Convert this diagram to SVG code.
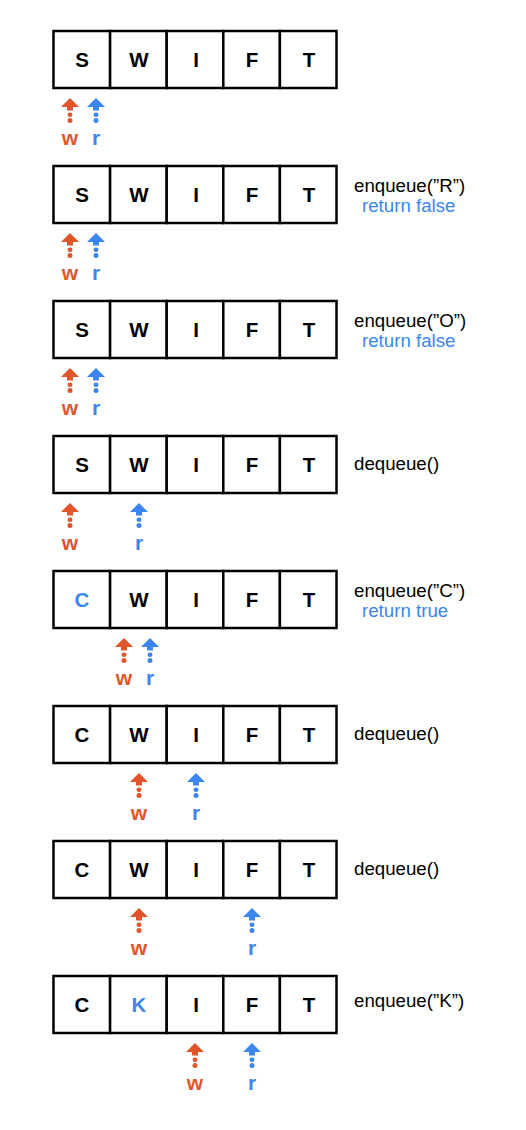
<svg xmlns="http://www.w3.org/2000/svg" xmlns:xlink="http://www.w3.org/1999/xlink" width="526" height="1130" viewBox="0 0 526 1130">
<style>
.cell{fill:#fff;stroke:#000;stroke-width:2.5}
.ch{font-family:"Liberation Sans",Arial,sans-serif;font-weight:bold;font-size:20.5px;text-anchor:middle;fill:#000}
.blue{fill:#3B86F2}
.orange{fill:#E0562A}
.op{font-family:"Liberation Sans",Arial,sans-serif;font-size:18.7px;fill:#000}
.ret{font-family:"Liberation Sans",Arial,sans-serif;font-size:18.7px;fill:#3B86F2}
.lbl{font-family:"Liberation Sans",Arial,sans-serif;font-weight:bold;font-size:21px;text-anchor:middle}
</style>
<defs>
<g id="cells">
<rect class="cell" x="53.5" y="0" width="56.6" height="57"/>
<rect class="cell" x="110.1" y="0" width="56.6" height="57"/>
<rect class="cell" x="166.7" y="0" width="56.6" height="57"/>
<rect class="cell" x="223.3" y="0" width="56.6" height="57"/>
<rect class="cell" x="279.9" y="0" width="56.6" height="57"/>
</g>
<g id="ptr">
<polygon points="-9,9 0,0 9,9"/>
<rect x="-3" y="8.5" width="6" height="4"/>
<rect x="-2.5" y="14.5" width="5" height="4.5" rx="2.5"/>
<rect x="-2.5" y="20" width="5" height="5" rx="2.5"/>
</g>
</defs>
<rect width="526" height="1130" fill="#fff"/>

<g id="row1">
<use xlink:href="#cells" y="31"/>
<text class="ch" x="82" y="67">S</text><text class="ch" x="139" y="67">W</text><text class="ch" x="196" y="67">I</text><text class="ch" x="252" y="67">F</text><text class="ch" x="309" y="67">T</text>
</g>
<g id="row2">
<use xlink:href="#cells" y="166"/>
<text class="ch" x="82" y="202">S</text><text class="ch" x="139" y="202">W</text><text class="ch" x="196" y="202">I</text><text class="ch" x="252" y="202">F</text><text class="ch" x="309" y="202">T</text>
<text class="op" x="354" y="192">enqueue(”R”)</text>
<text class="ret" x="362" y="212">return false</text>
</g>
<g id="row3">
<use xlink:href="#cells" y="301"/>
<text class="ch" x="82" y="337">S</text><text class="ch" x="139" y="337">W</text><text class="ch" x="196" y="337">I</text><text class="ch" x="252" y="337">F</text><text class="ch" x="309" y="337">T</text>
<text class="op" x="354" y="327">enqueue(”O”)</text>
<text class="ret" x="362" y="347">return false</text>
</g>
<g id="row4">
<use xlink:href="#cells" y="436"/>
<text class="ch" x="82" y="472">S</text><text class="ch" x="139" y="472">W</text><text class="ch" x="196" y="472">I</text><text class="ch" x="252" y="472">F</text><text class="ch" x="309" y="472">T</text>
<text class="op" x="354" y="470">dequeue()</text>
</g>
<g id="row5">
<use xlink:href="#cells" y="571"/>
<text class="ch blue" x="82" y="607">C</text><text class="ch" x="139" y="607">W</text><text class="ch" x="196" y="607">I</text><text class="ch" x="252" y="607">F</text><text class="ch" x="309" y="607">T</text>
<text class="op" x="354" y="597">enqueue(”C”)</text>
<text class="ret" x="362" y="617">return true</text>
</g>
<g id="row6">
<use xlink:href="#cells" y="706"/>
<text class="ch" x="82" y="742">C</text><text class="ch" x="139" y="742">W</text><text class="ch" x="196" y="742">I</text><text class="ch" x="252" y="742">F</text><text class="ch" x="309" y="742">T</text>
<text class="op" x="354" y="740">dequeue()</text>
</g>
<g id="row7">
<use xlink:href="#cells" y="841"/>
<text class="ch" x="82" y="877">C</text><text class="ch" x="139" y="877">W</text><text class="ch" x="196" y="877">I</text><text class="ch" x="252" y="877">F</text><text class="ch" x="309" y="877">T</text>
<text class="op" x="354" y="875">dequeue()</text>
</g>
<g id="row8">
<use xlink:href="#cells" y="976"/>
<text class="ch" x="82" y="1012">C</text><text class="ch blue" x="139" y="1012">K</text><text class="ch" x="196" y="1012">I</text><text class="ch" x="252" y="1012">F</text><text class="ch" x="309" y="1012">T</text>
<text class="op" x="354" y="1007">enqueue(”K”)</text>
</g>

<g id="pointers">
<use xlink:href="#ptr" class="orange" x="70" y="98"/><text class="lbl orange" x="70" y="145">w</text>
<use xlink:href="#ptr" class="blue" x="96" y="98"/><text class="lbl blue" x="96" y="145">r</text>

<use xlink:href="#ptr" class="orange" x="70" y="233"/><text class="lbl orange" x="70" y="280">w</text>
<use xlink:href="#ptr" class="blue" x="96" y="233"/><text class="lbl blue" x="96" y="280">r</text>

<use xlink:href="#ptr" class="orange" x="70" y="368"/><text class="lbl orange" x="70" y="415">w</text>
<use xlink:href="#ptr" class="blue" x="96" y="368"/><text class="lbl blue" x="96" y="415">r</text>

<use xlink:href="#ptr" class="orange" x="70" y="503"/><text class="lbl orange" x="70" y="550">w</text>
<use xlink:href="#ptr" class="blue" x="139" y="503"/><text class="lbl blue" x="139" y="550">r</text>

<use xlink:href="#ptr" class="orange" x="124" y="638"/><text class="lbl orange" x="124" y="685">w</text>
<use xlink:href="#ptr" class="blue" x="150" y="638"/><text class="lbl blue" x="150" y="685">r</text>

<use xlink:href="#ptr" class="orange" x="139" y="773"/><text class="lbl orange" x="139" y="820">w</text>
<use xlink:href="#ptr" class="blue" x="196" y="773"/><text class="lbl blue" x="196" y="820">r</text>

<use xlink:href="#ptr" class="orange" x="139" y="908"/><text class="lbl orange" x="139" y="955">w</text>
<use xlink:href="#ptr" class="blue" x="252" y="908"/><text class="lbl blue" x="252" y="955">r</text>

<use xlink:href="#ptr" class="orange" x="195" y="1043"/><text class="lbl orange" x="195" y="1090">w</text>
<use xlink:href="#ptr" class="blue" x="252" y="1043"/><text class="lbl blue" x="252" y="1090">r</text>
</g>
</svg>
